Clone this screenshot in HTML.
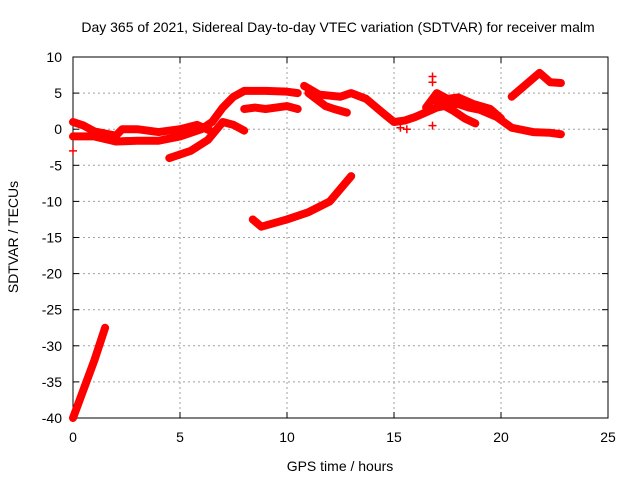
<!DOCTYPE html>
<html><head><meta charset="utf-8"><style>
body{margin:0;background:#fff}
svg{display:block;font-family:"Liberation Sans",sans-serif;font-size:14px}
</style></head><body>
<svg width="640" height="480">
<text x="338" y="32" text-anchor="middle">Day 365 of 2021, Sidereal Day-to-day VTEC variation (SDTVAR) for receiver malm</text>
<g id="grid"></g>
<g id="axes"></g>
<g id="series"></g>
<text x="340" y="471" text-anchor="middle">GPS time / hours</text>
<text transform="translate(18,237) rotate(-90)" text-anchor="middle">SDTVAR / TECUs</text>
</svg>
<script>
const xTicks=[0,5,10,15,20,25];
const yTicks=[10,5,0,-5,-10,-15,-20,-25,-30,-35,-40];
const track1=[[0,-1],[1,-1],[2,-1.7],[3,-1.6],[4,-1.6],[5,-1],[6,0],[6.5,1],[7,3],[7.5,4.5],[8,5.3],[9,5.3],[10,5.2],[10.5,5]];
const track2=[[0,1],[0.5,0.5],[1,-0.3],[2,-0.9],[2.3,0],[3,0],[4,-0.4],[5,0],[5.8,0.6],[6.4,-0.2]];
const track3=[[4.5,-4],[5.5,-3],[6.3,-1.5],[7,1],[7.5,0.6],[8,-0.2]];
const track4=[[8,2.8],[8.5,3],[9,2.8],[10,3.2],[10.5,2.8]];
const track5=[[10.8,6],[11.5,4.8],[12.5,4.5],[13,5],[13.7,4.2],[14.5,2.2],[15,1],[15.5,1.2],[16,1.7],[17,3],[17.5,3.3],[18,3.5],[18.5,3],[19,2.7],[19.8,1.7],[20.5,0.2],[21.5,-0.4],[22.3,-0.5],[22.8,-0.7]];
const track6=[[11,5],[11.8,3.2],[12.2,2.8],[12.8,2.3]];
const track7=[[16.5,3],[17,5],[17.5,4.2],[18,4.4],[18.7,3.5],[19.5,2.8],[20,1.5]];
const track8=[[17,3.8],[17.8,2.5],[18.3,1.5],[18.8,0.8]];
const track9=[[20.5,4.5],[21.8,7.8],[22.3,6.5],[22.8,6.4]];
const track10=[[8.4,-12.5],[8.8,-13.5],[10,-12.5],[11,-11.5],[12,-10],[13,-6.5]];
const track11=[[0,-40],[0.5,-36],[1,-32],[1.5,-27.5]];
const singles=[[0,-3],[16.8,7.3],[16.8,6.5],[16.8,0.5],[15.3,0.2],[15.6,0]];
const tracks=[track1,track2,track3,track4,track5,track6,track7,track8,track9,track10,track11];
const X0=73,X1=608,Y0=418,Y1=57;
const sx=v=>X0+(v-0)/25*(X1-X0);
const sy=v=>Y0-(v+40)/50*(Y0-Y1);
const NS='http://www.w3.org/2000/svg';
function mk(t,a,p){const e=document.createElementNS(NS,t);for(const k in a)e.setAttribute(k,a[k]);p.appendChild(e);return e;}
const grid=document.getElementById('grid'),axes=document.getElementById('axes'),ser=document.getElementById('series');
xTicks.forEach(t=>{const x=sx(t);
 if(t>0&&t<25){const g=mk('line',{x1:x,x2:x,y1:Y1,y2:Y0,stroke:'#a0a0a0','stroke-dasharray':'2,3'},grid);
 }
 mk('line',{x1:x,x2:x,y1:Y0,y2:Y0-6,stroke:'#000'},axes);mk('line',{x1:x,x2:x,y1:Y1,y2:Y1+6,stroke:'#000'},axes);
 const tx=mk('text',{x:x,y:Y0+24,'text-anchor':'middle'},axes);tx.textContent=t;
 });
yTicks.forEach(t=>{const y=sy(t);
 if(t>-40&&t<10){const g=mk('line',{x1:X0,x2:X1,y1:y,y2:y,stroke:'#a0a0a0','stroke-dasharray':'2,3'},grid);
 }
 mk('line',{x1:X0,x2:X0+6,y1:y,y2:y,stroke:'#000'},axes);mk('line',{x1:X1,x2:X1-6,y1:y,y2:y,stroke:'#000'},axes);
 const tx=mk('text',{x:X0-11,y:y+5,'text-anchor':'end'},axes);tx.textContent=t;
 });
const fr=mk('rect',{x:X0,y:Y1,width:X1-X0,height:Y0-Y1,fill:'none',stroke:'#000'},axes);

tracks.forEach(tr=>{const p=mk('polyline',{points:tr.map(d=>sx(d[0])+','+sy(d[1])).join(' '),fill:'none',stroke:'#f00','stroke-width':8,'stroke-linejoin':'round','stroke-linecap':'round'},ser);
 });
singles.forEach(d=>{const x=sx(d[0]),y=sy(d[1]);
 const p=mk('path',{d:`M${x-4},${y}h8M${x},${y-4}v8`,stroke:'#f00','stroke-width':1.5},ser);
 });
</script>
</body></html>
